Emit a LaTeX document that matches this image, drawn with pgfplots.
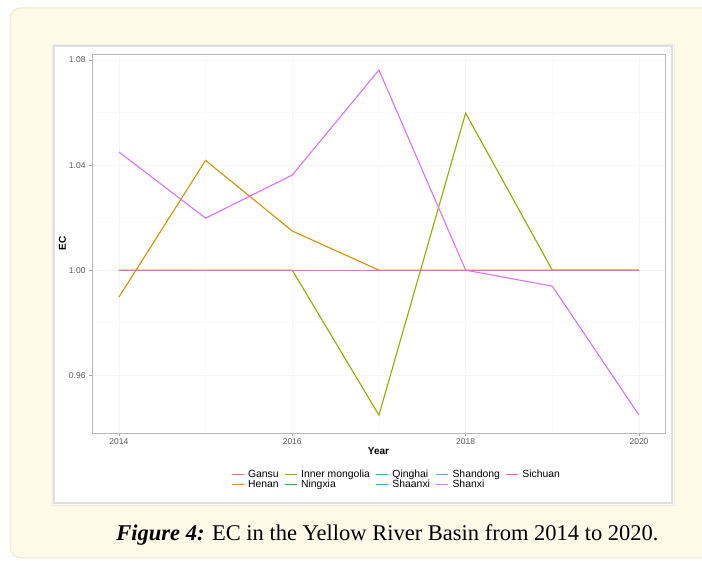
\documentclass[border=0pt]{standalone}
\usepackage{pgfplots}
\pgfplotsset{compat=1.18}
\usepackage{fontspec}
\setmainfont{Liberation Sans}
\newfontfamily\capfont{Liberation Serif}
\definecolor{cream}{HTML}{FEFAE8}
\definecolor{cardborder}{HTML}{EEE9D2}
\definecolor{cGansu}{HTML}{F8766D}
\definecolor{cHenan}{HTML}{D39200}
\definecolor{cInner}{HTML}{93AA00}
\definecolor{cNingxia}{HTML}{00BA38}
\definecolor{cQinghai}{HTML}{00C19F}
\definecolor{cShaanxi}{HTML}{00B9E3}
\definecolor{cShandong}{HTML}{619CFF}
\definecolor{cShanxi}{HTML}{DB72FB}
\definecolor{cSichuan}{HTML}{FF61C3}
\definecolor{ticklab}{HTML}{5A5A5A}
\begin{document}
\begin{tikzpicture}[x=1pt,y=1pt]
\useasboundingbox (0,0) rectangle (702,561);
\fill[white] (0,0) rectangle (702,561);
\draw[fill=cream, draw=cardborder, line width=1pt, rounded corners=11pt] (10,3) rectangle (730,553);
\draw[fill=white, draw=gray!25, line width=1.2pt] (54,58) rectangle (672,515);
\draw[draw=gray!15, line width=0.8pt] (52,56) rectangle (674,517);
\begin{axis}[
  at={(92pt,128pt)}, anchor=south west,
  scale only axis, width=573pt, height=379pt,
  xmin=2013.69, xmax=2020.3, ymin=0.938, ymax=1.0823,
  xtick={2014,2016,2018,2020},
  ytick={0.96,1.00,1.04,1.08},
  minor x tick num=1, minor y tick num=1,
  grid=both,
  major grid style={gray!7, line width=0.6pt},
  minor grid style={gray!4, line width=0.4pt},
  axis line style={gray!55, line width=0.8pt},
  tick align=outside, tick pos=left,
  major tick length=3pt, minor tick length=0pt,
  tick style={gray!70, line width=0.5pt},
  /pgf/number format/assume math mode=true,
  x tick label style={font=\fontsize{8.5}{10}\selectfont, color=ticklab, /pgf/number format/1000 sep={}, yshift=1pt},
  y tick label style={font=\fontsize{8.5}{10}\selectfont, color=ticklab, /pgf/number format/.cd, fixed, fixed zerofill, precision=2},
  xlabel={\textbf{Year}}, ylabel={\textbf{EC}},
  xlabel style={font=\fontsize{10}{12}\selectfont, yshift=4pt},
  ylabel style={font=\fontsize{10}{12}\selectfont, yshift=-4pt},
  legend columns=5,
  legend cell align=left,
  legend image code/.code={\draw[#1, line width=1.5pt] (0pt,0pt) -- (12pt,0pt);},
  legend style={at={(0.237,-0.09)}, anchor=north west, draw=none, fill=none,
    font=\fontsize{10.4}{11}\selectfont,
    nodes={inner ysep=0.6pt},
    /tikz/every odd column/.style={column sep=1.5pt},
    /tikz/every even column/.style={column sep=3.5pt}},
  every axis plot/.append style={line width=1.1pt},
]
% ggplot draw order
\addplot[cGansu, forget plot] coordinates {(2014,1.00) (2015,1.00) (2016,1.00) (2017,1.00) (2018,1.00) (2019,1.00) (2020,1.00)};
\addplot[cHenan, forget plot] coordinates {(2014,0.9897) (2015,1.0418) (2016,1.0149) (2017,1.00) (2018,1.00) (2019,1.00) (2020,1.00)};
\addplot[cInner, forget plot] coordinates {(2014,1.00) (2015,1.00) (2016,1.00) (2017,0.9448) (2018,1.0598) (2019,1.00) (2020,1.00)};
\addplot[cNingxia, forget plot] coordinates {(2014,1.00) (2015,1.00) (2016,1.00) (2017,1.00) (2018,1.00) (2019,1.00) (2020,1.00)};
\addplot[cQinghai, forget plot] coordinates {(2014,1.00) (2015,1.00) (2016,1.00) (2017,1.00) (2018,1.00) (2019,1.00) (2020,1.00)};
\addplot[cShaanxi, forget plot] coordinates {(2014,1.00) (2015,1.00) (2016,1.00) (2017,1.00) (2018,1.00) (2019,1.00) (2020,1.00)};
\addplot[cShandong, forget plot] coordinates {(2014,1.00) (2015,1.00) (2016,1.00) (2017,1.00) (2018,1.00) (2019,1.00) (2020,1.00)};
\addplot[cShanxi, forget plot] coordinates {(2014,1.0450) (2015,1.0198) (2016,1.0362) (2017,1.0762) (2018,1.00) (2019,0.9939) (2020,0.9448)};
\addplot[cSichuan, forget plot] coordinates {(2014,1.00) (2015,1.00) (2016,1.00) (2017,1.00) (2018,1.00) (2019,1.00) (2020,1.00)};
% legend in row order (ggplot fills by column)
\addlegendimage{color=cGansu}\addlegendentry{Gansu}
\addlegendimage{color=cInner}\addlegendentry{Inner mongolia}
\addlegendimage{color=cQinghai}\addlegendentry{Qinghai}
\addlegendimage{color=cShandong}\addlegendentry{Shandong}
\addlegendimage{color=cSichuan}\addlegendentry{Sichuan}
\addlegendimage{color=cHenan}\addlegendentry{Henan}
\addlegendimage{color=cNingxia}\addlegendentry{Ningxia}
\addlegendimage{color=cShaanxi}\addlegendentry{Shaanxi}
\addlegendimage{color=cShanxi}\addlegendentry{Shanxi}
\end{axis}
\node[font=\capfont\fontsize{22.5}{26}\selectfont, anchor=base] at (387.5,20) {\textbf{\textit{Figure 4:}} EC in the Yellow River Basin from 2014 to 2020.};
\end{tikzpicture}
\end{document}
